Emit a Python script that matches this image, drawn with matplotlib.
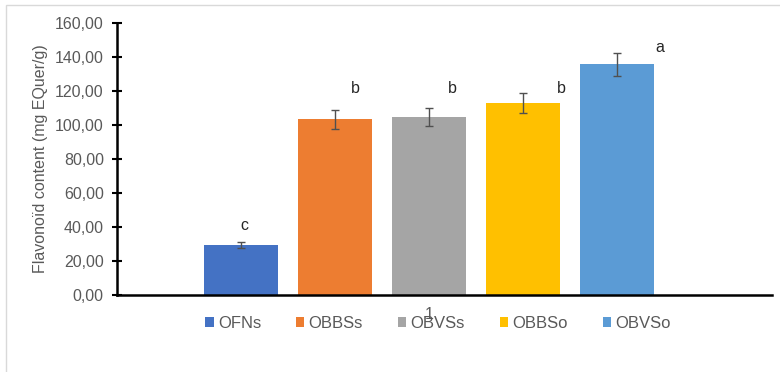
import numpy as np
import matplotlib.pyplot as plt
from matplotlib.patches import Rectangle

plt.rcParams['font.family'] = ['Liberation Sans', 'DejaVu Sans']

# data
samples = ['OFNs', 'OBBSs', 'OBVSs', 'OBBSo', 'OBVSo']
flavonoid = [29.5, 103.3, 104.7, 113.0, 135.7]
sd = [1.6, 5.5, 5.4, 5.8, 6.9]
letters = ['c', 'b', 'b', 'b', 'a']
colors = ['#4472C4', '#ED7D31', '#A5A5A5', '#FFC000', '#5B9BD5']

# manual placement of significance letters (x offset, y in data units)
letter_dx = [0.03, 0.22, 0.25, 0.41, 0.45]
letter_y = [41.0, 121.5, 121.5, 121.5, 145.5]

grey = '#595959'
fs = 11.5

fig = plt.figure(figsize=(7.8, 3.72), dpi=100)
ax = fig.add_axes([0.15, 0.207, 0.84, 0.731])

x = np.arange(len(samples))
for i, s in enumerate(samples):
    ax.bar(x[i], flavonoid[i], width=0.79, color=colors[i], label=s,
           yerr=sd[i], ecolor='#505050', capsize=3,
           error_kw={'elinewidth': 1.0, 'capthick': 1.0}, zorder=2)
    ax.text(x[i] + letter_dx[i], letter_y[i], letters[i], ha='center',
            va='center', fontsize=fs, color='#262626')

ax.set_xlim(-1.32, 5.65)
ax.set_ylim(0, 160)
ax.set_yticks(np.arange(0, 161, 20))
ax.set_yticklabels([f'{v:.2f}'.replace('.', ',') for v in np.arange(0, 161, 20)])
ax.set_xticks([2])
ax.set_xticklabels(['1'])

for side in ['top', 'right']:
    ax.spines[side].set_visible(False)
for side in ['left', 'bottom']:
    ax.spines[side].set_linewidth(1.8)
    ax.spines[side].set_color('black')

ax.tick_params(axis='y', direction='inout', length=7, width=1.5,
               colors='black', labelcolor=grey, labelsize=fs, pad=6)
ax.tick_params(axis='x', length=0, labelcolor=grey, labelsize=fs, pad=9)

ax.set_ylabel('Flavonoïd content (mg EQuer/g)', color=grey, fontsize=fs,
              labelpad=5)

ax.legend(loc='upper center', bbox_to_anchor=(0.49, -0.022), ncol=5,
          frameon=False, fontsize=12, handlelength=0.5, handleheight=0.5,
          handletextpad=0.25, columnspacing=2.1, labelcolor=grey)

fig.patches.append(Rectangle((6 / 780, -0.1), 1.1, 1.087, transform=fig.transFigure,
                             fill=False, edgecolor='#d9d9d9', linewidth=1.0))

fig.savefig('out.png', dpi=100)
